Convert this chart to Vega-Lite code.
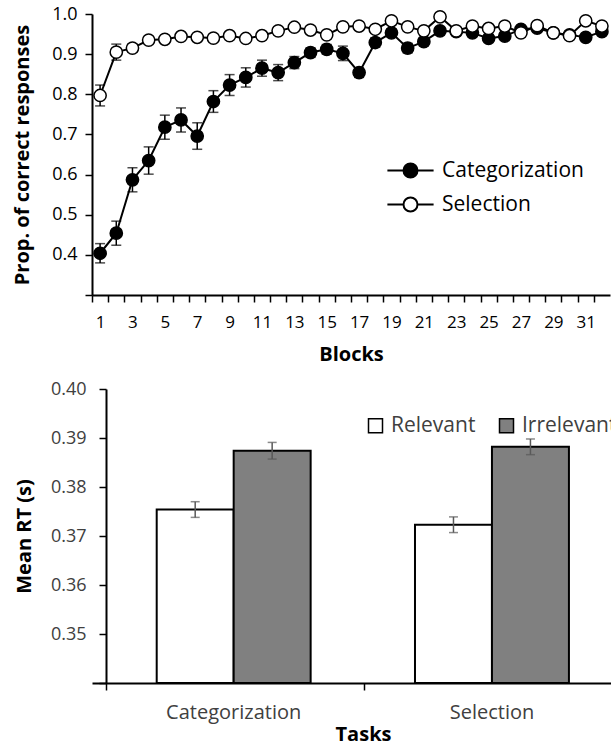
{
  "$schema": "https://vega.github.io/schema/vega-lite/v6.json",
  "background": "white",
  "padding": {"left": 12, "top": 5, "right": 0, "bottom": 0},
  "spacing": 16,
  "resolve": {"scale": {"fill": "independent"}, "legend": {"fill": "independent"}},
  "config": {
    "font": "Open Sans",
    "view": {"stroke": null},
    "axis": {
      "grid": false,
      "domainColor": "black",
      "domainWidth": 2,
      "tickColor": "black",
      "tickWidth": 1.5,
      "tickSize": 7,
      "labelColor": "black",
      "titleColor": "black",
      "titleFontWeight": "bold",
      "titleFontSize": 20,
      "labelFontSize": 18,
      "labelFont": "Open Sans",
      "titleFont": "Open Sans"
    },
    "legend": {"labelFont": "Open Sans"}
  },
  "vconcat": [
    {
      "width": 518,
      "height": 281,
      "data": {
        "values": [
          {"block": 1, "task": "Categorization", "p": 0.404, "se": 0.024},
          {"block": 2, "task": "Categorization", "p": 0.454, "se": 0.03},
          {"block": 3, "task": "Categorization", "p": 0.587, "se": 0.03},
          {"block": 4, "task": "Categorization", "p": 0.635, "se": 0.034},
          {"block": 5, "task": "Categorization", "p": 0.718, "se": 0.03},
          {"block": 6, "task": "Categorization", "p": 0.736, "se": 0.03},
          {"block": 7, "task": "Categorization", "p": 0.696, "se": 0.033},
          {"block": 8, "task": "Categorization", "p": 0.782, "se": 0.027},
          {"block": 9, "task": "Categorization", "p": 0.823, "se": 0.026},
          {"block": 10, "task": "Categorization", "p": 0.842, "se": 0.024},
          {"block": 11, "task": "Categorization", "p": 0.865, "se": 0.02},
          {"block": 12, "task": "Categorization", "p": 0.854, "se": 0.02},
          {"block": 13, "task": "Categorization", "p": 0.879, "se": 0.015},
          {"block": 14, "task": "Categorization", "p": 0.904, "se": 0.012},
          {"block": 15, "task": "Categorization", "p": 0.912, "se": 0.012},
          {"block": 16, "task": "Categorization", "p": 0.902, "se": 0.018},
          {"block": 17, "task": "Categorization", "p": 0.854, "se": 0.012},
          {"block": 18, "task": "Categorization", "p": 0.929, "se": 0.012},
          {"block": 19, "task": "Categorization", "p": 0.953, "se": 0.01},
          {"block": 20, "task": "Categorization", "p": 0.915, "se": 0.012},
          {"block": 21, "task": "Categorization", "p": 0.931, "se": 0.01},
          {"block": 22, "task": "Categorization", "p": 0.958, "se": 0.008},
          {"block": 23, "task": "Categorization", "p": 0.956, "se": 0.008},
          {"block": 24, "task": "Categorization", "p": 0.953, "se": 0.008},
          {"block": 25, "task": "Categorization", "p": 0.939, "se": 0.008},
          {"block": 26, "task": "Categorization", "p": 0.945, "se": 0.008},
          {"block": 27, "task": "Categorization", "p": 0.962, "se": 0.008},
          {"block": 28, "task": "Categorization", "p": 0.965, "se": 0.008},
          {"block": 29, "task": "Categorization", "p": 0.953, "se": 0.008},
          {"block": 30, "task": "Categorization", "p": 0.948, "se": 0.008},
          {"block": 31, "task": "Categorization", "p": 0.942, "se": 0.008},
          {"block": 32, "task": "Categorization", "p": 0.956, "se": 0.008},
          {"block": 1, "task": "Selection", "p": 0.797, "se": 0.026},
          {"block": 2, "task": "Selection", "p": 0.905, "se": 0.02},
          {"block": 3, "task": "Selection", "p": 0.915, "se": 0.01},
          {"block": 4, "task": "Selection", "p": 0.935, "se": 0.008},
          {"block": 5, "task": "Selection", "p": 0.937, "se": 0.007},
          {"block": 6, "task": "Selection", "p": 0.944, "se": 0.007},
          {"block": 7, "task": "Selection", "p": 0.942, "se": 0.007},
          {"block": 8, "task": "Selection", "p": 0.94, "se": 0.007},
          {"block": 9, "task": "Selection", "p": 0.946, "se": 0.007},
          {"block": 10, "task": "Selection", "p": 0.939, "se": 0.007},
          {"block": 11, "task": "Selection", "p": 0.946, "se": 0.007},
          {"block": 12, "task": "Selection", "p": 0.958, "se": 0.006},
          {"block": 13, "task": "Selection", "p": 0.967, "se": 0.006},
          {"block": 14, "task": "Selection", "p": 0.96, "se": 0.006},
          {"block": 15, "task": "Selection", "p": 0.948, "se": 0.006},
          {"block": 16, "task": "Selection", "p": 0.968, "se": 0.006},
          {"block": 17, "task": "Selection", "p": 0.97, "se": 0.006},
          {"block": 18, "task": "Selection", "p": 0.962, "se": 0.006},
          {"block": 19, "task": "Selection", "p": 0.983, "se": 0.005},
          {"block": 20, "task": "Selection", "p": 0.968, "se": 0.006},
          {"block": 21, "task": "Selection", "p": 0.958, "se": 0.006},
          {"block": 22, "task": "Selection", "p": 0.993, "se": 0.005},
          {"block": 23, "task": "Selection", "p": 0.958, "se": 0.006},
          {"block": 24, "task": "Selection", "p": 0.97, "se": 0.006},
          {"block": 25, "task": "Selection", "p": 0.964, "se": 0.006},
          {"block": 26, "task": "Selection", "p": 0.97, "se": 0.006},
          {"block": 27, "task": "Selection", "p": 0.953, "se": 0.006},
          {"block": 28, "task": "Selection", "p": 0.971, "se": 0.006},
          {"block": 29, "task": "Selection", "p": 0.953, "se": 0.006},
          {"block": 30, "task": "Selection", "p": 0.946, "se": 0.006},
          {"block": 31, "task": "Selection", "p": 0.983, "se": 0.005},
          {"block": 32, "task": "Selection", "p": 0.97, "se": 0.006}
        ]
      },
      "encoding": {
        "x": {
          "field": "block",
          "type": "quantitative",
          "title": "Blocks",
          "scale": {"domain": [0.5, 32.5], "nice": false, "zero": false},
          "axis": {
            "values": [1,2,3,4,5,6,7,8,9,10,11,12,13,14,15,16,17,18,19,20,21,22,23,24,25,26,27,28,29,30,31,32,33],
            "tickOffset": -8.09,
            "labelOffset": 8.09,
            "labelExpr": "(datum.value % 2 == 1 && datum.value < 32) ? datum.label : ''",
            "labelFontSize": 17,
            "labelPadding": 12,
            "labelFlush": false,
            "labelOverlap": false,
            "titlePadding": 14
          }
        },
        "y": {
          "field": "p",
          "type": "quantitative",
          "title": "Prop. of correct responses",
          "scale": {"domain": [0.3, 1.0], "nice": false, "zero": false},
          "axis": {
            "values": [0.3, 0.4, 0.5, 0.6, 0.7, 0.8, 0.9, 1.0],
            "labelExpr": "datum.value < 0.35 ? '' : format(datum.value, '.1f')",
            "labelPadding": 8,
            "titlePadding": 19
          }
        }
      },
      "layer": [
        {
          "mark": {"type": "errorbar", "ticks": {"size": 10}, "color": "black", "thickness": 1.5},
          "encoding": {
            "yError": {"field": "se"},
            "detail": {"field": "task"}
          }
        },
        {
          "mark": {"type": "line", "color": "black", "strokeWidth": 2},
          "encoding": {"detail": {"field": "task"}}
        },
        {
          "mark": {"type": "point", "filled": true, "size": 150, "stroke": "black", "strokeWidth": 1.5, "opacity": 1},
          "encoding": {
            "fill": {
              "field": "task",
              "type": "nominal",
              "scale": {"domain": ["Categorization", "Selection"], "range": ["black", "white"]},
              "legend": {
                "title": null,
                "orient": "none",
                "legendX": 308,
                "legendY": 146,
                "padding": 0,
                "symbolType": "M-3.3,0H-1M1,0A1,1,0,1,1,-1,0A1,1,0,1,1,1,0M1,0H3.3",
                "symbolSize": 196,
                "symbolStrokeColor": "black",
                "symbolStrokeWidth": 2,
                "labelFontSize": 21,
                "labelColor": "black",
                "labelOffset": 21,
                "rowPadding": 11
              }
            }
          }
        }
      ]
    },
    {
      "width": 519,
      "height": 294,
      "data": {
        "values": [
          {"task": "Categorization", "cond": "Relevant", "rt": 0.3754, "se": 0.0016},
          {"task": "Categorization", "cond": "Irrelevant", "rt": 0.3874, "se": 0.0017},
          {"task": "Selection", "cond": "Relevant", "rt": 0.3723, "se": 0.0016},
          {"task": "Selection", "cond": "Irrelevant", "rt": 0.3882, "se": 0.0016}
        ]
      },
      "encoding": {
        "x": {
          "field": "task",
          "type": "nominal",
          "title": "Tasks",
          "scale": {"paddingInner": 0.404, "paddingOuter": 0.2067, "align": 0.606},
          "axis": {
            "bandPosition": -0.329,
            "labelAngle": 0,
            "labelFontSize": 20,
            "labelColor": "#404040",
            "labelPadding": 12,
            "titlePadding": 2,
            "titleX": 271
          }
        },
        "xOffset": {
          "field": "cond",
          "type": "nominal",
          "scale": {"domain": ["Relevant", "Irrelevant"], "paddingInner": 0, "paddingOuter": 0}
        },
        "y": {
          "field": "rt",
          "type": "quantitative",
          "title": "Mean RT (s)",
          "scale": {"domain": [0.34, 0.40], "nice": false, "zero": false},
          "axis": {
            "values": [0.34, 0.35, 0.36, 0.37, 0.38, 0.39, 0.40],
            "labelExpr": "datum.value < 0.345 ? '' : format(datum.value, '.2f')",
            "labelColor": "#404040",
            "labelPadding": 13,
            "titlePadding": 16,
            "offset": -14
          }
        }
      },
      "layer": [
        {
          "mark": {"type": "bar", "stroke": "black", "strokeWidth": 2},
          "encoding": {
            "y2": {"datum": 0.34},
            "fill": {
              "field": "cond",
              "type": "nominal",
              "scale": {"domain": ["Relevant", "Irrelevant"], "range": ["white", "#808080"]},
              "legend": {
                "title": null,
                "orient": "none",
                "direction": "horizontal",
                "legendX": 273,
                "legendY": 26,
                "padding": 0,
                "symbolType": "square",
                "symbolSize": 196,
                "symbolStrokeColor": "black",
                "symbolStrokeWidth": 1.5,
                "labelFontSize": 21,
                "labelColor": "#404040",
                "labelOffset": 5,
                "columnPadding": 20
              }
            }
          }
        },
        {
          "mark": {"type": "errorbar", "ticks": {"size": 9}, "color": "#595959", "thickness": 1.5},
          "encoding": {"yError": {"field": "se"}}
        }
      ]
    }
  ]
}
